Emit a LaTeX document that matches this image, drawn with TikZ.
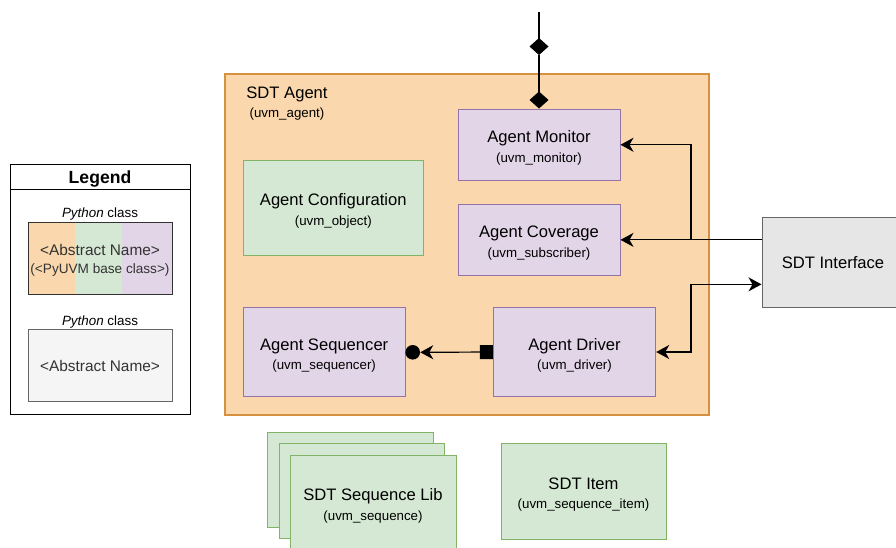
\documentclass[tikz,border=0pt]{standalone}
\usepackage{fontspec}
\setmainfont{Liberation Sans}
\usetikzlibrary{arrows.meta}

\definecolor{agentfill}{HTML}{FAD7AC}
\definecolor{agentline}{HTML}{D6913F}
\definecolor{purplefill}{HTML}{E1D5E7}
\definecolor{purpleline}{HTML}{9673A6}
\definecolor{greenfill}{HTML}{D5E8D4}
\definecolor{greenline}{HTML}{82B366}
\definecolor{greyfill}{HTML}{E6E6E6}
\definecolor{lightfill}{HTML}{F5F5F5}
\definecolor{greyline}{HTML}{666666}
\definecolor{legendtext}{HTML}{333333}

\newcommand\maintxt{\fontsize{16.6}{19.6}\selectfont}
\newcommand\smalltxt{\fontsize{13.3}{16}\selectfont}

\tikzset{
  box/.style={draw, rectangle, inner sep=0pt, line width=1pt, align=center,
              font=\maintxt},
  twoline/.style={text height=38pt},
  classbox/.style={box, twoline, fill=purplefill, draw=purpleline},
  cfgbox/.style={box, twoline, fill=greenfill, draw=greenline},
  ifbox/.style={box, fill=greyfill, draw=greyline},
  conn/.style={line width=1.2pt, draw=black},
  tip/.tip={Stealth[length=13pt, width=14pt, inset=4pt]},
  dia/.tip={Diamond[length=17pt, width=19pt]},
  sq/.tip={Square[length=13pt, width=14pt]},
}

\begin{document}
\begin{tikzpicture}[x=1pt, y=-1pt]
\clip (0,0) rectangle (896,547);
\fill[white] (0,0) rectangle (896,547);

% ---------- agent container ----------
\node[draw=agentline, fill=agentfill, line width=1.2pt, rectangle, inner sep=0pt,
      minimum width=484pt, minimum height=341pt] (agent) at (467,244.5) {};
\node[align=center, font=\maintxt, inner sep=0pt] (agentlbl) at (287,103.5)
  {SDT Agent\\{\smalltxt (uvm\_agent)}};

% ---------- agent components ----------
\node[classbox, minimum width=162pt, minimum height=71.5pt] (mon) at (539,144.75)
  {Agent Monitor\\{\smalltxt (uvm\_monitor)}};
\node[classbox, minimum width=162pt, minimum height=71.5pt] (cov) at (539,239.85)
  {Agent Coverage\\{\smalltxt (uvm\_subscriber)}};
\node[cfgbox, minimum width=180pt, minimum height=95pt] (cfg) at (333.3,207.5)
  {Agent Configuration\\{\smalltxt (uvm\_object)}};
\node[classbox, minimum width=161.7pt, minimum height=89.4pt] (seqr) at (324.15,352)
  {Agent Sequencer\\{\smalltxt (uvm\_sequencer)}};
\node[classbox, minimum width=162.4pt, minimum height=89.4pt] (drv) at (574.5,352)
  {Agent Driver\\{\smalltxt (uvm\_driver)}};

% ---------- interface ----------
\node[ifbox, minimum width=142pt, minimum height=89.3pt] (intf) at (833,262.35)
  {SDT Interface};

% ---------- sequences and items ----------
\node[cfgbox, minimum width=166pt, minimum height=95pt] (seqA) at (350,479.5) {};
\node[cfgbox, minimum width=165pt, minimum height=95pt] (seqB) at (361.5,490.5) {};
\node[cfgbox, minimum width=166pt, minimum height=95pt] (seqlib) at (373,502.5)
  {SDT Sequence Lib\\{\smalltxt (uvm\_sequence)}};
\node[cfgbox, minimum width=165pt, minimum height=96pt] (item) at (583.5,491)
  {SDT Item\\{\smalltxt (uvm\_sequence\_item)}};

% ---------- connectors ----------
\coordinate (topend) at (539,12);
\coordinate (agg) at (539,55);
\draw[conn, -{dia}] (topend) -- (agg);
\draw[conn, -{dia}] (agg) -- (mon.north);

\coordinate (ifout) at (cov.east -| intf.west);
\coordinate (bus) at (691,239.85);
\coordinate (ifin) at ([yshift=-22pt]intf.west);
\draw[conn, -{tip}] (ifout) -- (cov.east);
\draw[conn, -{tip}] (ifout) -- (bus) |- (mon.east);
\draw[conn, {tip}-{tip}] (drv.east) -| (bus |- ifin) -- (ifin);

\node[circle, fill=black, inner sep=0pt, minimum size=14.6pt] (port) at (412.7,352.3) {};
\draw[conn, {sq}-{tip}] (drv.west) -- (port.east);

% ---------- legend ----------
\node[draw=black, rectangle, inner sep=0pt, line width=1pt,
      minimum width=180pt, minimum height=225pt] (legbody) at (100,301.5) {};
\node[draw=black, rectangle, inner sep=0pt, line width=1pt,
      minimum width=180pt, minimum height=25pt] (leghead) at (100,176.5) {};
\node[font=\fontsize{17.6}{20}\selectfont\bfseries, inner sep=0pt] (legtitle)
      at (100,179) {Legend};
\node[font=\fontsize{13.4}{16}\selectfont, inner sep=0pt] (cap1) at (100,214) {\textit{Python} class};
\fill[agentfill] (28,222) rectangle (75,294);
\fill[greenfill] (75,222) rectangle (122,294);
\fill[purplefill] (122,222) rectangle (172,294);
\node[draw=legendtext, rectangle, inner sep=0pt, line width=1pt, align=center,
      text=legendtext, font=\fontsize{15.4}{18.2}\selectfont, text height=33.5pt,
      minimum width=144pt, minimum height=72pt] (absclass) at (100,258)
  {<Abstract Name>\\{\fontsize{13.6}{16}\selectfont (<PyUVM base class>)}};
\node[font=\fontsize{13.4}{16}\selectfont, inner sep=0pt] (cap2) at (100,322.5) {\textit{Python} class};
\node[draw=greyline, fill=lightfill, rectangle, inner sep=0pt, line width=1pt,
      text=legendtext, font=\fontsize{15.4}{18.2}\selectfont,
      minimum width=144pt, minimum height=72pt] (plainclass) at (100,365.5)
  {<Abstract Name>};
\end{tikzpicture}
\end{document}
